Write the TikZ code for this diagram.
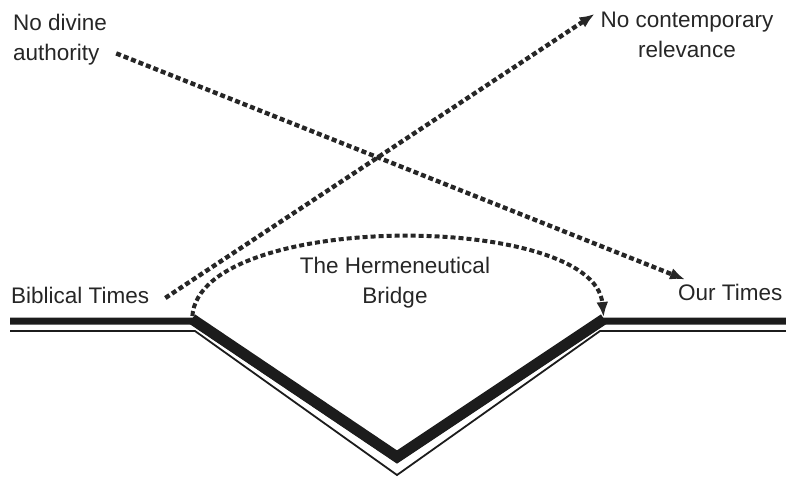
\documentclass[tikz,border=0pt]{standalone}
\usepackage{fontspec}
\setmainfont{Liberation Sans}
\usetikzlibrary{arrows.meta}
\definecolor{ink}{HTML}{262626}
\definecolor{roadink}{HTML}{1C1C1C}

\begin{document}
\begin{tikzpicture}[
    x=1pt, y=-1pt,
    lbl/.style={inner sep=0pt, text=ink, font=\fontsize{22.5}{30}\selectfont},
    dashy/.style={draw=ink, line width=4.4pt, dash pattern=on 5pt off 3pt, -{Latex[length=15pt,width=12pt]}},
    road/.style={draw=roadink, line width=7pt, line join=miter},
    rim/.style={draw=roadink, line width=1.8pt, line join=miter},
]
    \useasboundingbox (0,0) rectangle (786,480);

    % Labels
    \node[lbl, anchor=north west, align=left] (divine) at (13,14) {No divine\\authority};
    \node[lbl, anchor=north, align=center] (norel) at (687,12) {No contemporary\\relevance};
    \node[lbl, anchor=base west] (bib) at (11,303) {Biblical Times};
    \node[lbl, anchor=base west] (ours) at (678,300) {Our Times};
    \node[lbl, anchor=north, align=center] (bridge) at (395,257) {The Hermeneutical\\Bridge};

    % Road
    \coordinate (w) at (10,321);
    \coordinate (bl) at (192,321);
    \coordinate (bot) at (397,459);
    \coordinate (br) at (604,321);
    \coordinate (e) at (786,321);
    \draw[road] (w) -- (bl) -- (bot) -- (br) -- (e);
    \draw[road, line width=11pt] ([yshift=2pt]bl) -- ([yshift=2pt]bot) -- ([yshift=2pt]br);
    \draw[rim] (10,331) -- (195,331) -- (397,475) -- (600,331) -- (786,331);

    % Arrows
    \draw[dashy] ([shift={(9,-12)}]divine.south east) -- ([shift={(7,-4)}]ours.north west);
    \draw[dashy] ([shift={(16,3)}]bib.east) -- ([shift={(-6,2)}]norel.north west);
    \draw[dashy, line width=4pt, shorten <=5pt, shorten >=4pt] (bl) .. controls +(8,-110) and +(-10,-110) .. (br);
\end{tikzpicture}
\end{document}
